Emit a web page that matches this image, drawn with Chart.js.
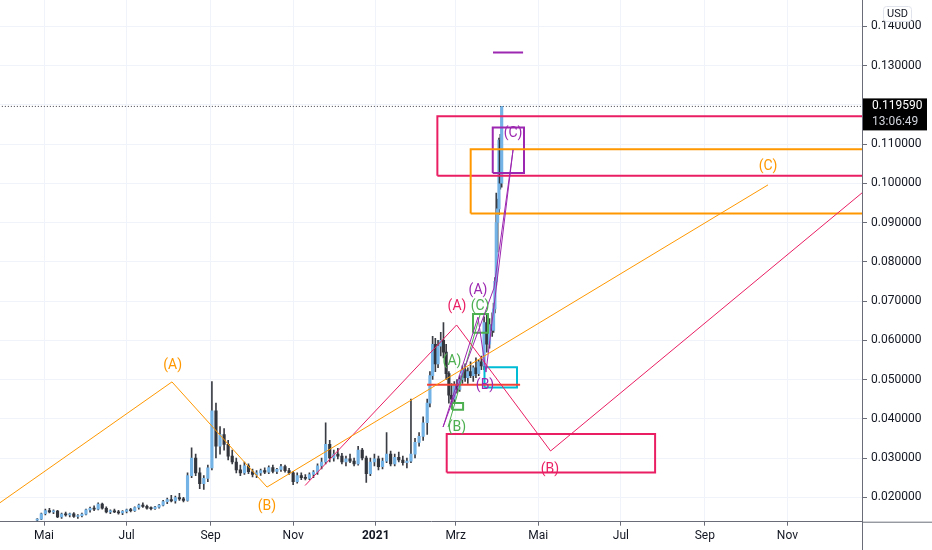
<!DOCTYPE html>
<html>
<head>
<meta charset="utf-8">
<script src="https://cdn.jsdelivr.net/npm/chart.js@4.4.1/dist/chart.umd.min.js"></script>
<style>
  html, body { margin: 0; padding: 0; background: #fff; }
  #wrap { width: 932px; height: 550px; }
</style>
</head>
<body>
<div id="wrap"><canvas id="chart" width="932" height="550"></canvas></div>
<script>
// x values are days counted from 1 May 2020
const monthTickDays = [0, 61, 123, 184, 245, 304, 365, 426, 488, 549];
const monthTickLabels = ['Mai', 'Jul', 'Sep', 'Nov', '2021', 'Mrz', 'Mai', 'Jul', 'Sep', 'Nov'];
const priceTicks = [0.02, 0.03, 0.04, 0.05, 0.06, 0.07, 0.08, 0.09, 0.10, 0.11, 0.12, 0.13, 0.14];

const candleDays = [-5, -2, 1, 4, 7, 10, 13, 16, 19, 22, 25, 28, 31, 34, 37, 40, 43, 46, 49, 52, 55, 58, 61, 64, 67, 70, 73, 76, 79, 82, 85, 88, 91, 94, 97, 100, 103, 106, 109, 112, 115, 118, 121, 124, 127, 130, 133, 136, 139, 142, 145, 148, 151, 154, 157, 160, 163, 166, 169, 172, 175, 178, 181, 184, 187, 190, 193, 196, 199, 202, 205, 208, 211, 214, 217, 220, 223, 226, 229, 232, 235, 238, 241, 244, 247, 250, 253, 256, 259, 262, 265, 268, 271, 274, 277, 280, 283, 285, 287, 289, 291, 293, 295, 297, 299, 301, 303, 305, 307, 309, 311, 313, 315, 317, 319, 321, 323, 325, 327, 329, 331, 332, 333, 334, 335, 336, 337, 338];
const candleOpen = [.0142, .0144, .0158, .0166, .0163, .0165, .0150, .0157, .0155, .0158, .0151, .0153, .0157, .0168, .0172, .0170, .0183, .0172, .0163, .0165, .0163, .0160, .0164, .0168, .0166, .0174, .0180, .0177, .0172, .0171, .0175, .0180, .0189, .0194, .0191, .0199, .0196, .0192, .0255, .0300, .0262, .0235, .0248, .0275, .0420, .0330, .0360, .0335, .0305, .0290, .0270, .0262, .0280, .0265, .0258, .0262, .0268, .0264, .0276, .0266, .0271, .0278, .0268, .0262, .0240, .0255, .0250, .0248, .0258, .0264, .0280, .0290, .0335, .0300, .0310, .0305, .0290, .0298, .0292, .0285, .0320, .0300, .0260, .0290, .0298, .0278, .0292, .0310, .0285, .0302, .0295, .0288, .0292, .0310, .0340, .0355, .0390, .0440, .0510, .0590, .0540, .0585, .0600, .0570, .0515, .0460, .0450, .0485, .0475, .0500, .0525, .0505, .0520, .0510, .0530, .0515, .0545, .0535, .0645, .0590, .0640, .0625, .0680, .0750, .0900, .0935, .1110, .1000];
const candleHigh = [.0146, .0160, .0170, .0172, .0168, .0167, .0160, .0162, .0160, .0161, .0156, .0160, .0170, .0175, .0178, .0186, .0185, .0176, .0168, .0170, .0167, .0166, .0170, .0172, .0176, .0183, .0186, .0180, .0176, .0177, .0182, .0192, .0198, .0205, .0203, .0210, .0200, .0262, .0326, .0310, .0275, .0255, .0282, .0495, .0440, .0380, .0375, .0345, .0320, .0300, .0282, .0290, .0285, .0272, .0268, .0272, .0275, .0280, .0282, .0274, .0284, .0282, .0274, .0266, .0262, .0262, .0258, .0262, .0268, .0285, .0300, .0390, .0345, .0320, .0325, .0312, .0305, .0310, .0300, .0330, .0325, .0305, .0300, .0310, .0305, .0300, .0365, .0318, .0310, .0315, .0305, .0300, .0450, .0350, .0365, .0405, .0450, .0520, .0610, .0605, .0600, .0620, .0645, .0590, .0520, .0490, .0495, .0500, .0510, .0535, .0540, .0530, .0545, .0535, .0555, .0550, .0560, .0660, .0665, .0655, .0670, .0695, .0760, .0975, .0960, .1115, .1125, .1196];
const candleLow = [.0140, .0143, .0155, .0160, .0158, .0148, .0146, .0152, .0150, .0149, .0146, .0150, .0155, .0162, .0166, .0168, .0170, .0160, .0158, .0161, .0157, .0156, .0160, .0163, .0164, .0170, .0174, .0170, .0168, .0169, .0172, .0178, .0184, .0188, .0185, .0192, .0188, .0190, .0250, .0255, .0222, .0220, .0240, .0270, .0300, .0310, .0320, .0295, .0285, .0262, .0255, .0258, .0260, .0252, .0250, .0256, .0260, .0260, .0262, .0260, .0266, .0264, .0258, .0232, .0236, .0245, .0244, .0245, .0250, .0258, .0272, .0285, .0290, .0292, .0298, .0285, .0280, .0288, .0280, .0282, .0295, .0238, .0255, .0280, .0270, .0272, .0288, .0280, .0280, .0290, .0282, .0275, .0288, .0300, .0330, .0345, .0360, .0430, .0500, .0520, .0530, .0560, .0555, .0500, .0440, .0430, .0440, .0465, .0470, .0490, .0495, .0490, .0505, .0495, .0505, .0510, .0525, .0525, .0570, .0580, .0610, .0620, .0670, .0740, .0825, .0920, .0985, .0990];
const candleClose = [.0144, .0158, .0166, .0163, .0165, .0150, .0157, .0155, .0158, .0151, .0153, .0157, .0168, .0172, .0170, .0183, .0172, .0163, .0165, .0163, .0160, .0164, .0168, .0166, .0174, .0180, .0177, .0172, .0171, .0175, .0180, .0189, .0194, .0191, .0199, .0196, .0192, .0255, .0300, .0262, .0235, .0248, .0275, .0420, .0330, .0360, .0335, .0305, .0290, .0270, .0262, .0280, .0265, .0258, .0262, .0268, .0264, .0276, .0266, .0271, .0278, .0268, .0262, .0240, .0255, .0250, .0248, .0258, .0264, .0280, .0290, .0335, .0300, .0310, .0305, .0290, .0298, .0292, .0285, .0320, .0300, .0260, .0290, .0298, .0278, .0292, .0310, .0285, .0302, .0295, .0288, .0292, .0310, .0340, .0355, .0390, .0440, .0510, .0590, .0540, .0585, .0600, .0570, .0515, .0460, .0450, .0485, .0475, .0500, .0525, .0505, .0520, .0510, .0530, .0515, .0545, .0535, .0645, .0590, .0640, .0625, .0680, .0750, .0900, .0935, .1110, .1000, .1196];

const lastPrice = 0.11959;
const lastPriceText = '0.119590';
const barCountdown = '13:06:49';

// hand drawn wave counts: [day, price]
const orangeWave = [[-33, 0.0185], [94.5, 0.0494], [164.7, 0.0226], [534.7, 0.0996]];
const crimsonWave = [[192.8, 0.0230], [304.7, 0.0639], [374.1, 0.0318], [620, 0.1021]];
const purpleWave = [[294.7, 0.0379], [320.5, 0.0659], [326.4, 0.0519], [346.4, 0.1085]];
const purpleTrend = [[294.7, 0.0379], [332.3, 0.0733], [346.4, 0.1085]];
const greenWave = [[298.4, 0.0379], [322.0, 0.0665]];
const redLevel = [[282.9, 0.0487], [351.6, 0.0487]];
const purpleTarget = [[331.6, 0.1333], [353.8, 0.1333]];

// boxes: [fromDay, toDay, lowPrice, highPrice]
const orangeBox = [315.1, 620, 0.0923, 0.1087];
const crimsonTopBox = [290.5, 620, 0.1019, 0.1171];
const crimsonLowBox = [297.4, 451.3, 0.0263, 0.0361];
const purpleBox = [331.4, 354.5, 0.1026, 0.1142];
const cyanBox = [325.3, 349.3, 0.0480, 0.0531];
const greenBoxLow = [301.3, 309.5, 0.0423, 0.0440];
const greenBoxHigh = [316.8, 327.9, 0.0619, 0.0667];

// labels: [text, day, price]
const orangeLabels = [['(A)', 95, 0.0537], ['(B)', 164.7, 0.0176], ['(C)', 534.7, 0.1044]];
const crimsonLabels = [['(A)', 305, 0.0685], ['(B)', 373.7, 0.0270]];
const purpleLabels = [['(A)', 320.5, 0.0726], ['(B)', 325.7, 0.0484], ['(C)', 346.4, 0.1128]];
const greenLabels = [['(A)', 301.3, 0.0547], ['(B)', 305, 0.0379], ['(C)', 322, 0.0687]];

const COLORS = {
    up: '#74b3e6',
    down: '#33353d',
    wick: '#3b3d45',
    orange: '#ff9800',
    crimson: '#e91e63',
    purple: '#9c27b0',
    green: '#4caf50',
    cyan: '#00bcd4',
    red: '#f44336',
    axis: '#6a6d78',
    grid: '#f0f3fa',
    text: '#131722'
};

const isUp = candleClose.map((c, i) => c >= candleOpen[i]);
const candleColors = isUp.map(u => u ? COLORS.up : COLORS.down);

function lineSet(points, color, width, extra) {
    return Object.assign({
        type: 'line',
        data: points.map(p => ({ x: p[0], y: p[1] })),
        borderColor: color,
        borderWidth: width,
        pointRadius: 0,
        tension: 0,
        fill: false,
        order: 1
    }, extra || {});
}

function boxSet(box, color) {
    const [x1, x2, lo, hi] = box;
    return lineSet([[x1, lo], [x1, hi], [x2, hi], [x2, lo], [x1, lo]], color, 2);
}

const labelGroups = [
    { color: COLORS.orange, items: orangeLabels },
    { color: COLORS.crimson, items: crimsonLabels },
    { color: COLORS.purple, items: purpleLabels },
    { color: COLORS.green, items: greenLabels }
];

const waveLabelPlugin = {
    id: 'waveLabels',
    afterDatasetsDraw(chart) {
        const { ctx, scales: { x, y } } = chart;
        ctx.save();
        ctx.beginPath();
        ctx.rect(chart.chartArea.left, chart.chartArea.top, chart.chartArea.width, chart.chartArea.height);
        ctx.clip();
        ctx.font = '14px Roboto';
        ctx.textAlign = 'center';
        ctx.textBaseline = 'middle';
        labelGroups.forEach(g => {
            ctx.fillStyle = g.color;
            g.items.forEach(([text, day, price]) => {
                ctx.fillText(text, x.getPixelForValue(day), y.getPixelForValue(price));
            });
        });
        ctx.restore();
    }
};

const priceAxisPlugin = {
    id: 'priceAxis',
    afterDraw(chart) {
        const { ctx, chartArea, scales: { y } } = chart;
        const w = chart.width, h = chart.height;
        ctx.save();
        // axis lines run out to the canvas edges
        ctx.strokeStyle = COLORS.axis;
        ctx.lineWidth = 1;
        ctx.beginPath();
        ctx.moveTo(chartArea.right + 0.5, chartArea.bottom);
        ctx.lineTo(chartArea.right + 0.5, h);
        ctx.moveTo(chartArea.right, chartArea.bottom + 0.5);
        ctx.lineTo(w, chartArea.bottom + 0.5);
        ctx.stroke();

        // last price tag
        const py = y.getPixelForValue(lastPrice);
        ctx.fillStyle = '#000';
        ctx.fillRect(chartArea.right + 1, py - 8, 64, 32);
        ctx.font = '12px Roboto';
        ctx.textAlign = 'left';
        ctx.textBaseline = 'middle';
        ctx.fillStyle = '#fff';
        ctx.fillText(lastPriceText, chartArea.right + 10, py);
        ctx.fillStyle = '#d1d4dc';
        ctx.fillText(barCountdown, chartArea.right + 10, py + 16);

        // currency badge
        ctx.fillStyle = '#fff';
        ctx.strokeStyle = '#e0e3eb';
        ctx.beginPath();
        ctx.roundRect(883.5, 6.5, 28, 15, 3);
        ctx.fill();
        ctx.stroke();
        ctx.fillStyle = COLORS.text;
        ctx.font = '11px Roboto';
        ctx.textAlign = 'center';
        ctx.fillText('USD', 897.5, 14.5);
        ctx.restore();
    }
};

const datasets = [
    lineSet([[-40, lastPrice], [620, lastPrice]], '#3b3d45', 1, { borderDash: [1, 2], order: 2 }),
    lineSet(orangeWave, COLORS.orange, 1),
    lineSet(crimsonWave, COLORS.crimson, 1),
    lineSet(purpleWave, COLORS.purple, 1),
    lineSet(purpleTrend, COLORS.purple, 1),
    lineSet(greenWave, COLORS.green, 1),
    lineSet(redLevel, COLORS.red, 2),
    lineSet(purpleTarget, COLORS.purple, 2),
    boxSet(orangeBox, COLORS.orange),
    boxSet(crimsonTopBox, COLORS.crimson),
    boxSet(crimsonLowBox, COLORS.crimson),
    boxSet(purpleBox, COLORS.purple),
    boxSet(cyanBox, COLORS.cyan),
    boxSet(greenBoxLow, COLORS.green),
    boxSet(greenBoxHigh, COLORS.green),
    {
        type: 'bar',
        data: candleDays.map((d, i) => ({ x: d, y: [candleOpen[i], candleClose[i]] })),
        backgroundColor: candleColors,
        barThickness: 2.5,
        grouped: false,
        minBarLength: 1,
        order: 10
    },
    {
        type: 'bar',
        data: candleDays.map((d, i) => ({ x: d, y: [candleLow[i], candleHigh[i]] })),
        backgroundColor: COLORS.wick,
        barThickness: 1,
        grouped: false,
        order: 11
    }
];

new Chart(document.getElementById('chart'), {
    type: 'bar',
    data: { datasets },
    options: {
        responsive: false,
        animation: false,
        devicePixelRatio: 1,
        layout: { padding: 0 },
        plugins: { legend: { display: false }, tooltip: { enabled: false } },
        scales: {
            x: {
                type: 'linear',
                min: -32.5,
                max: 604.1,
                offset: false,
                bounds: 'data',
                grid: { color: COLORS.grid, tickColor: COLORS.axis, tickLength: 4, offset: false },
                border: { color: COLORS.axis },
                ticks: {
                    autoSkip: false,
                    maxRotation: 0,
                    padding: 3,
                    color: COLORS.text,
                    font: ctx => ({ family: 'Roboto', size: 12, weight: monthTickLabels[ctx.index] === '2021' ? 'bold' : 'normal' }),
                    callback: (v, i) => monthTickLabels[i]
                },
                afterBuildTicks: s => { s.ticks = monthTickDays.map(v => ({ value: v })); },
                afterFit: s => { s.height = 28.3; s.paddingLeft = 0; s.paddingRight = 0; }
            },
            y: {
                type: 'linear',
                position: 'right',
                min: 0.01378,
                max: 0.1467,
                bounds: 'data',
                grid: { color: COLORS.grid, tickColor: COLORS.axis, tickLength: 5 },
                border: { color: COLORS.axis },
                ticks: {
                    padding: 4,
                    color: COLORS.text,
                    font: { family: 'Roboto', size: 12 },
                    callback: v => v.toFixed(6)
                },
                afterBuildTicks: s => { s.ticks = priceTicks.map(v => ({ value: v })); },
                afterFit: s => { s.width = 70; s.paddingTop = 0; s.paddingBottom = 0; }
            }
        }
    },
    plugins: [waveLabelPlugin, priceAxisPlugin]
});
</script>
</body>
</html>
